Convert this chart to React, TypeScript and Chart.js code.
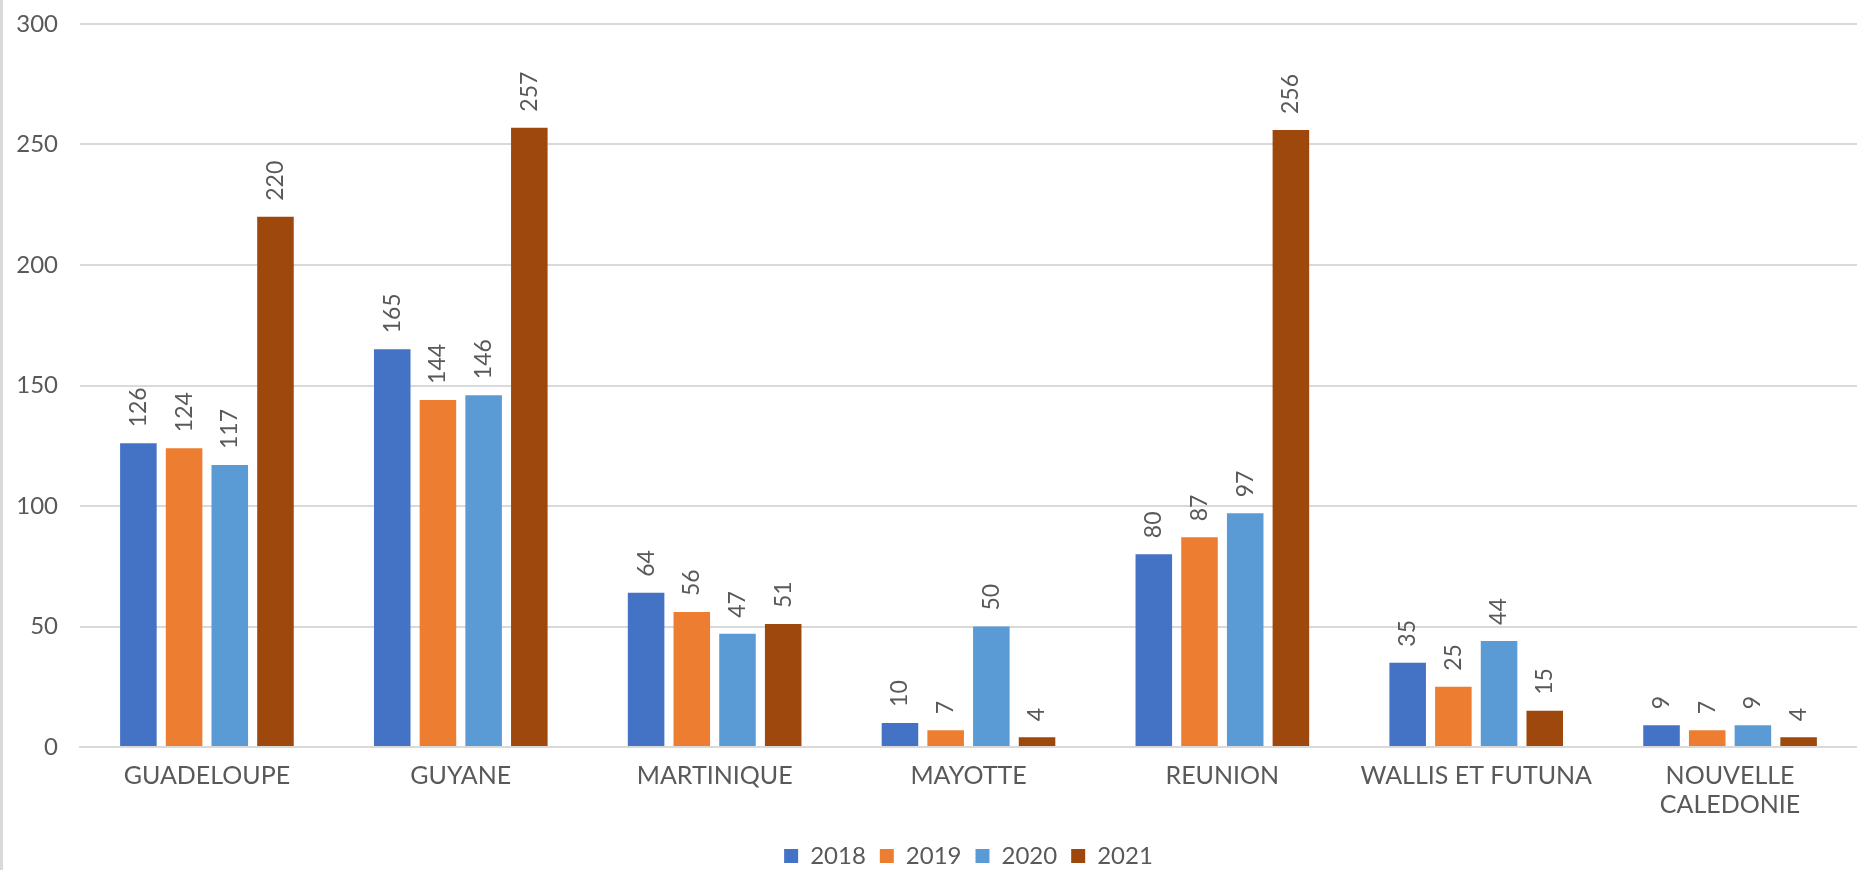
import React, { useEffect, useRef } from "react";
import { Chart, registerables } from "chart.js";

Chart.register(...registerables);

const categories: (string | string[])[] = [
  "GUADELOUPE",
  "GUYANE",
  "MARTINIQUE",
  "MAYOTTE",
  "REUNION",
  "WALLIS ET FUTUNA",
  ["NOUVELLE", "CALEDONIE"],
];
const seriesNames = ["2018", "2019", "2020", "2021"];
const values2018 = [126, 165, 64, 10, 80, 35, 9];
const values2019 = [124, 144, 56, 7, 87, 25, 7];
const values2020 = [117, 146, 47, 50, 97, 44, 9];
const values2021 = [220, 257, 51, 4, 256, 15, 4];
const seriesColors = ["#4472C4", "#ED7D31", "#5B9BD5", "#9E480E"];
const yTicks = [0, 50, 100, 150, 200, 250, 300];

const FONT = "Lato, 'Liberation Sans', sans-serif";
const TEXT = "#595959";

const dataLabelPlugin = {
  id: "rotLabels",
  afterDatasetsDraw(chart: any) {
    const ctx = chart.ctx;
    ctx.save();
    ctx.fillStyle = TEXT;
    ctx.font = `23px ${FONT}`;
    ctx.textAlign = "left";
    ctx.textBaseline = "middle";
    chart.data.datasets.forEach((ds: any, i: number) => {
      const meta = chart.getDatasetMeta(i);
      meta.data.forEach((el: any, j: number) => {
        ctx.save();
        ctx.translate(el.x, el.y - 16);
        ctx.rotate(-Math.PI / 2);
        ctx.fillText(String(ds.data[j]), 0, 0);
        ctx.restore();
      });
    });
    ctx.restore();
  },
};

const bgPlugin = {
  id: "bgBorder",
  beforeLayout(chart: any) {
    const lg = chart.legend;
    if (lg && !lg.__patched) {
      const orig = lg.fit.bind(lg);
      lg.fit = function () {
        orig();
        this.height = 40;
      };
      lg.__patched = true;
    }
  },
  beforeDraw(chart: any) {
    const ctx = chart.ctx;
    ctx.save();
    ctx.fillStyle = "#ffffff";
    ctx.fillRect(0, 0, chart.width, chart.height);
    ctx.fillStyle = "#d9d9d9";
    ctx.fillRect(0, 0, 3, chart.height);
    ctx.restore();
  },
};

export default function App() {
  const ref = useRef<HTMLCanvasElement>(null);
  useEffect(() => {
    if (!ref.current) return;
    const allSeries = [values2018, values2019, values2020, values2021];
    const chart = new Chart(ref.current, {
      type: "bar",
      data: {
        labels: categories as any,
        datasets: seriesNames.map((name, i) => ({
          label: name,
          data: allSeries[i],
          backgroundColor: seriesColors[i],
          borderWidth: 0,
          categoryPercentage: 0.72,
          barPercentage: 0.8,
        })),
      },
      options: {
        animation: false,
        responsive: false,
        devicePixelRatio: 1,
        layout: { padding: { top: 24, right: 0, left: 0, bottom: 0 } },
        plugins: {
          tooltip: { enabled: false },
          legend: {
            position: "bottom",
            fullSize: false,
            labels: {
              color: TEXT,
              font: { family: FONT, size: 24 },
              boxWidth: 14,
              boxHeight: 14,
              padding: 14,
            },
          },
        },
        scales: {
          x: {
            grid: { display: false, drawTicks: false },
            border: { display: true, color: "#d9d9d9", width: 2 },
            ticks: {
              color: TEXT,
              font: { family: FONT, size: 25, lineHeight: 1.15 },
              padding: 15,
              maxRotation: 0,
              autoSkip: false,
            },
            afterFit(scale: any) {
              scale.height = 83;
            },
          },
          y: {
            min: 0,
            max: 300,
            afterBuildTicks(scale: any) {
              scale.ticks = yTicks.map((v) => ({ value: v }));
            },
            grid: { color: "#d9d9d9", lineWidth: 2, drawTicks: false },
            border: { display: false },
            ticks: {
              color: TEXT,
              font: { family: FONT, size: 24 },
              padding: 22,
            },
            afterFit(scale: any) {
              scale.width = 80;
              scale.paddingTop = 0;
              scale.paddingBottom = 0;
            },
          },
        },
      },
      plugins: [bgPlugin, dataLabelPlugin],
    });
    return () => chart.destroy();
  }, []);
  return (
    <div style={{ position: "fixed", left: 0, top: 0, width: 1857, height: 870, background: "#fff" }}>
      <canvas ref={ref} width={1857} height={870} style={{ width: 1857, height: 870, display: "block" }} />
    </div>
  );
}
